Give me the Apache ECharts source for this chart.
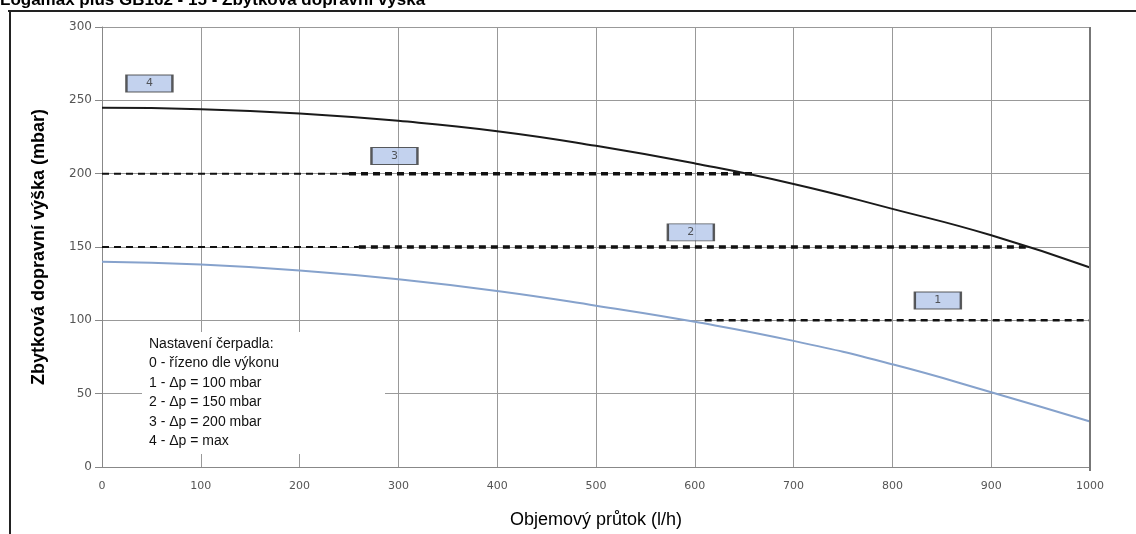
<!DOCTYPE html>
<html>
<head>
<meta charset="utf-8">
<script src="https://cdn.jsdelivr.net/npm/echarts@6/dist/echarts.min.js"></script>
<style>
  html, body { margin: 0; padding: 0; background: #fff; }
  #chart { width: 1136px; height: 534px; }
</style>
</head>
<body>
<div id="chart"></div>
<script>
// prutok (l/h)
var flowX = [0, 100, 200, 300, 400, 500, 600, 700, 800, 900, 1000];
// 4 - max
var curveMax = [245, 244, 241, 236, 229, 219, 207, 193, 176, 158, 136];
// 0 - rizeno dle vykonu
var curveAuto = [140, 138, 134, 128, 120, 110, 99, 86, 70, 51, 31];

// konstantni dp (x od, x do, mbar)
var dp200Thin = [[0, 200], [250, 200]];
var dp200Thick = [[250, 200], [660, 200]];
var dp150Thin = [[0, 150], [260, 150]];
var dp150Thick = [[260, 150], [935, 150]];
var dp100 = [[610, 100], [1000, 100]];

// stitky 1..4
var tagNames = ['1', '2', '3', '4'];
var tagX = [846, 596, 296, 48];
var tagY = [113.5, 160, 212, 261.5];

var legendLines = [
  'Nastavení čerpadla:',
  '0 - řízeno dle výkonu',
  '1 - Δp = 100 mbar',
  '2 - Δp = 150 mbar',
  '3 - Δp = 200 mbar',
  '4 - Δp = max'
];

function pairs(xs, ys) {
  return xs.map(function (x, i) { return [x, ys[i]]; });
}

function dashLine(data, w) {
  return {
    type: 'line',
    data: data,
    symbol: 'none',
    silent: true,
    lineStyle: { color: '#111', width: w, type: [7, 5] },
    z: 3
  };
}

var chart = echarts.init(document.getElementById('chart'));
chart.setOption({
  animation: false,
  grid: { left: 102, right: 46, top: 27, bottom: 63 },
  xAxis: {
    type: 'value',
    min: 0, max: 1000, interval: 100,
    name: 'Objemový průtok (l/h)',
    nameLocation: 'middle',
    nameGap: 44,
    nameTextStyle: { fontFamily: 'Liberation Sans', fontSize: 18, color: '#000' },
    axisLine: { lineStyle: { color: '#888', width: 1 } },
    axisTick: { show: false },
    axisLabel: {
      fontFamily: 'DejaVu Sans', fontSize: 11, color: '#555', margin: 14,
      formatter: function (v) { return String(v); }
    },
    splitLine: { lineStyle: { color: '#999', width: 1 } }
  },
  yAxis: {
    type: 'value',
    min: 0, max: 300, interval: 50,
    name: 'Zbytková dopravní výška (mbar)',
    nameLocation: 'middle',
    nameGap: 54,
    nameTextStyle: { fontFamily: 'Liberation Sans', fontSize: 18, fontWeight: 'bold', color: '#000' },
    axisLine: { show: true, lineStyle: { color: '#888', width: 1 } },
    axisTick: { show: true, length: 7, lineStyle: { color: '#888' } },
    axisLabel: { fontFamily: 'DejaVu Sans', fontSize: 12, color: '#555', margin: 10 },
    splitLine: { lineStyle: { color: '#999', width: 1 } }
  },
  graphic: [
    { type: 'line', shape: { x1: 8, y1: 11, x2: 1136, y2: 11 }, style: { stroke: '#222', lineWidth: 2 } },
    { type: 'line', shape: { x1: 10, y1: 11, x2: 10, y2: 534 }, style: { stroke: '#222', lineWidth: 2 } },
    { type: 'line', shape: { x1: 1090, y1: 27, x2: 1090, y2: 471 }, style: { stroke: '#777', lineWidth: 2 }, z: 50 },
    {
      type: 'text', left: 0, top: -8, z: 100,
      style: { text: 'Logamax plus GB162 - 15 - Zbytková dopravní výška', font: 'bold 17px "Liberation Sans", Arial', fill: '#000' }
    },
    { type: 'rect', shape: { x: 142, y: 332, width: 243, height: 122 }, style: { fill: '#fff' }, z: 90 },
    {
      type: 'text', left: 149, top: 334, z: 100,
      style: { text: legendLines.join('\n'), font: '14px "Liberation Sans", Arial', lineHeight: 19.5, fill: '#111' }
    }
  ],
  series: [
    {
      type: 'line', data: pairs(flowX, curveMax), smooth: true, symbol: 'none', silent: true,
      lineStyle: { color: '#1a1a1a', width: 2 }, z: 4
    },
    {
      type: 'line', data: pairs(flowX, curveAuto), smooth: true, symbol: 'none', silent: true,
      lineStyle: { color: '#86a2cc', width: 2 }, z: 4
    },
    dashLine(dp200Thin, 2),
    dashLine(dp200Thick, 3.5),
    dashLine(dp150Thin, 2),
    dashLine(dp150Thick, 3.5),
    dashLine(dp100, 2.5),
    {
      type: 'scatter',
      data: tagNames.map(function (n, i) { return { value: [tagX[i], tagY[i]], name: n }; }),
      symbol: 'rect',
      symbolSize: [46, 17],
      itemStyle: { color: '#b4c7ea', borderColor: '#333', borderWidth: 1.5 },
      label: {
        show: true, position: 'inside', formatter: '{b}',
        fontFamily: 'DejaVu Sans', fontSize: 11, color: '#333'
      },
      z: 10
    }
  ]
});
</script>
</body>
</html>
